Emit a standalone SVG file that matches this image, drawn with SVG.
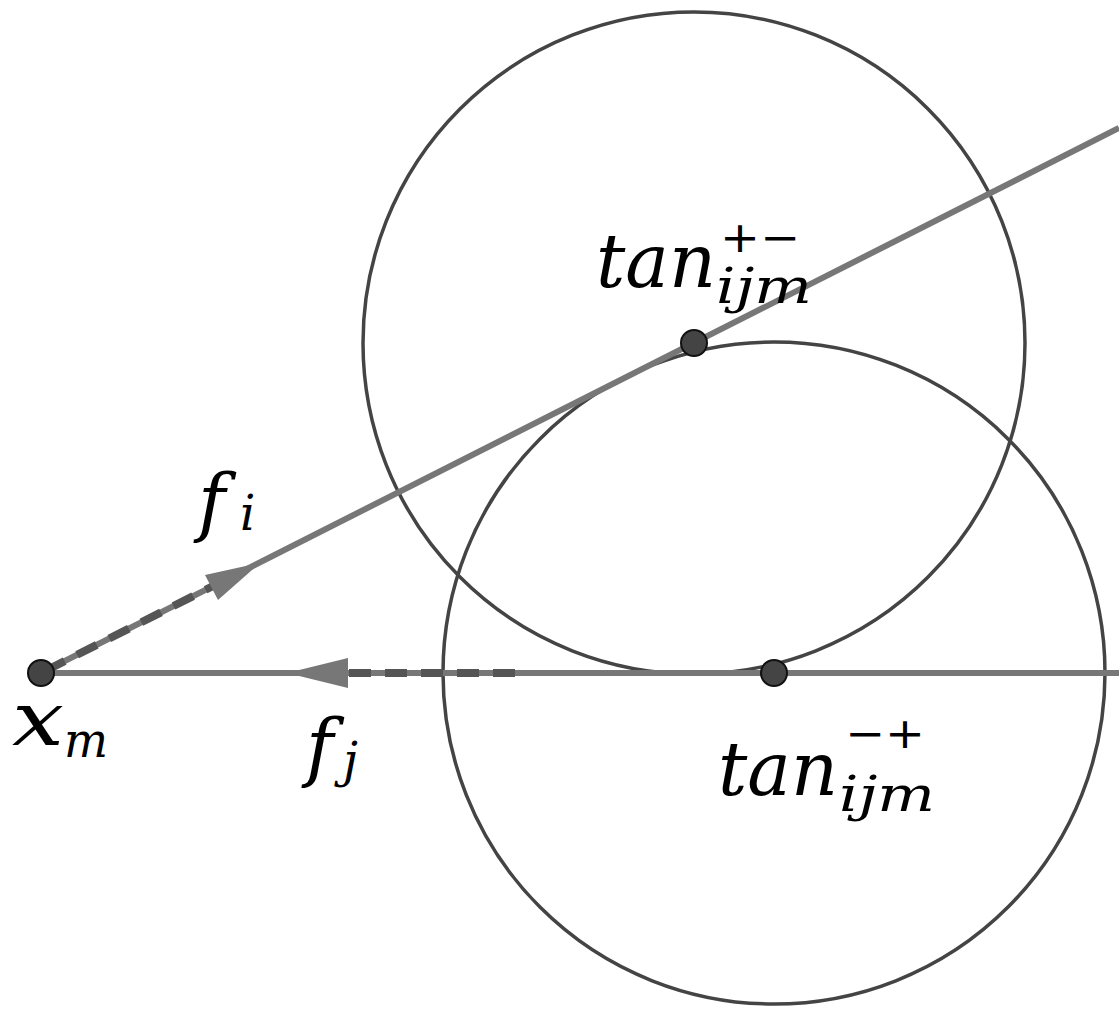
<svg xmlns="http://www.w3.org/2000/svg" width="1119" height="1014" viewBox="0 0 1119 1014">
<style>
.circ{fill:none;stroke:#444;stroke-width:3.5}
.line{stroke:#777;stroke-width:6;fill:none}
.vec{stroke:#555;stroke-width:8;stroke-dasharray:22 14;fill:none}
.pt{fill:#444;stroke:#111;stroke-width:2}
.m{font-family:'DejaVu Serif',serif;font-style:italic;fill:#000}
.big{font-size:74px}
.sub{font-size:48px}
.sup{font-family:'DejaVu Sans',sans-serif;font-size:42px;fill:#000}
</style>
<rect width="1119" height="1014" fill="#fff"/>
<g id="circles">
<circle id="circle1" class="circ" cx="694" cy="343" r="331"/>
<circle id="circle2" class="circ" cx="774" cy="673" r="331"/>
</g>
<g id="connectors">
<line class="line" x1="41" y1="673" x2="1119" y2="128"/>
<line class="line" x1="41" y1="673" x2="1119" y2="673"/>
<line class="vec" x1="45" y1="671" x2="215" y2="585"/>
<polygon points="260,563 205,575 218,600" fill="#777"/>
<line class="vec" x1="515" y1="673" x2="340" y2="673"/>
<polygon points="287,673 348,658 348,688" fill="#777"/>
</g>
<g id="xm">
<circle class="pt" cx="41" cy="673" r="13"/>
<text class="m big" x="12" y="745" textLength="52" lengthAdjust="spacingAndGlyphs">x</text>
<text class="m sub" x="64" y="757" textLength="44" lengthAdjust="spacingAndGlyphs">m</text>
</g>
<g id="tanPM">
<circle class="pt" cx="694" cy="343" r="13"/>
<text class="m big" x="596" y="287" textLength="120" lengthAdjust="spacingAndGlyphs">tan</text>
<text class="m sub" x="716" y="303" textLength="96" lengthAdjust="spacingAndGlyphs">ijm</text>
<text class="sup" x="720" y="252" textLength="80" lengthAdjust="spacingAndGlyphs">+−</text>
</g>
<g id="tanMP">
<circle class="pt" cx="774" cy="673" r="13"/>
<text class="m big" x="718" y="795" textLength="120" lengthAdjust="spacingAndGlyphs">tan</text>
<text class="m sub" x="839" y="811" textLength="96" lengthAdjust="spacingAndGlyphs">ijm</text>
<text class="sup" x="845" y="748" textLength="80" lengthAdjust="spacingAndGlyphs">−+</text>
</g>
<g id="fi">
<text class="m big" x="198" y="527">f</text>
<text class="m sub" x="240" y="530">i</text>
</g>
<g id="fj">
<text class="m big" x="306" y="772">f</text>
<text class="m sub" x="343" y="777">j</text>
</g>
</svg>
